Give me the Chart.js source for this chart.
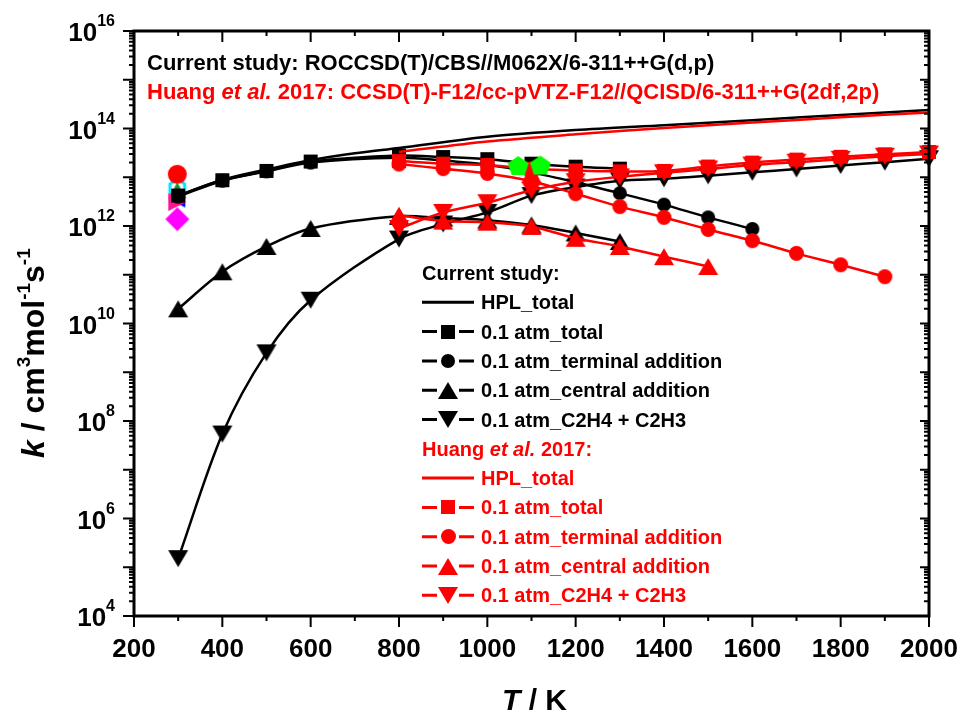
<!DOCTYPE html>
<html>
<head>
<meta charset="utf-8">
<title>C2H3 + C2H4 rate constants</title>
<script src="https://cdn.jsdelivr.net/npm/chart.js@4.4.1/dist/chart.umd.min.js"></script>
<style>
  html, body { margin: 0; padding: 0; background: #fff; }
  canvas { display: block; }
</style>
</head>
<body>
<canvas id="rateChart" width="962" height="713"></canvas>
<script>
const FAM = '"Liberation Sans", Arial, Helvetica, sans-serif';
const bold = s => 'bold ' + s + 'px ' + FAM;
const boldItalic = s => 'italic bold ' + s + 'px ' + FAM;

// axes
const xMin = 200, xMax = 2000;
const xTickLabels = [200, 400, 600, 800, 1000, 1200, 1400, 1600, 1800, 2000];
const yExpLabels = [4, 6, 8, 10, 12, 14, 16];

// current study (black)
const tHplBlack = [300, 400, 500, 600, 700, 800, 1000, 1200, 1400, 1600, 1800, 2000];
const kHplBlack = [4.2e12, 8.9e12, 1.45e13, 2.24e13, 3.1e13, 3.98e13, 6.76e13, 9.3e13, 1.17e14, 1.48e14, 1.9e14, 2.4e14];
const tTotBlack = [300, 400, 500, 600, 800, 900, 1000, 1100, 1200, 1300];
const kTotBlack = [4.2e12, 8.7e12, 1.35e13, 2.1e13, 2.8e13, 2.6e13, 2.35e13, 1.9e13, 1.65e13, 1.5e13];
const tTermBlack = [300, 400, 500, 600, 800, 900, 1000, 1100, 1200, 1300, 1400, 1500, 1600];
const kTermBlack = [4.0e12, 8.5e12, 1.32e13, 2.0e13, 2.5e13, 2.2e13, 1.8e13, 1.26e13, 7.9e12, 4.7e12, 2.75e12, 1.5e12, 8.7e11];
const tCentBlack = [300, 400, 500, 600, 800, 900, 1000, 1100, 1200, 1300];
const kCentBlack = [2.0e10, 1.15e11, 3.8e11, 8.9e11, 1.58e12, 1.45e12, 1.32e12, 1.05e12, 7.2e11, 4.8e11];
const tVinBlack = [300, 400, 500, 600, 800, 900, 1000, 1100, 1200, 1300, 1400, 1500, 1600, 1700, 1800, 1900, 2000];
const kVinBlack = [1.5e5, 5.4e7, 2.5e9, 3.0e10, 5.4e11, 1.1e12, 1.9e12, 4.2e12, 6.3e12, 8.5e12, 9.3e12, 1.07e13, 1.26e13, 1.48e13, 1.74e13, 2.04e13, 2.4e13];

// Huang et al. 2017 (red)
const tHplRed = [800, 1000, 1200, 1400, 1600, 1800, 2000];
const kHplRed = [3.3e13, 5.4e13, 7.6e13, 1.02e14, 1.32e14, 1.7e14, 2.14e14];
const tTotRed = [800, 900, 1000, 1100, 1200, 1300, 1400, 1500, 1600, 1700, 1800, 1900, 2000];
const kTotRed = [2.15e13, 1.9e13, 1.78e13, 1.5e13, 1.38e13, 1.32e13, 1.35e13, 1.66e13, 2.0e13, 2.3e13, 2.63e13, 2.95e13, 3.3e13];
const tTermRed = [800, 900, 1000, 1100, 1200, 1300, 1400, 1500, 1600, 1700, 1800, 1900];
const kTermRed = [1.86e13, 1.5e13, 1.2e13, 8.3e12, 4.6e12, 2.5e12, 1.5e12, 8.5e11, 5.0e11, 2.75e11, 1.6e11, 9.1e10];
const tCentRed = [800, 900, 1000, 1100, 1200, 1300, 1400, 1500];
const kCentRed = [1.66e12, 1.26e12, 1.2e12, 9.8e11, 5.6e11, 3.8e11, 2.35e11, 1.48e11];
const tVinRed = [800, 900, 1000, 1100, 1200, 1300, 1400, 1500, 1600, 1700, 1800, 1900, 2000];
const kVinRed = [8.9e11, 1.9e12, 3.0e12, 5.4e12, 8.1e12, 1.02e13, 1.23e13, 1.48e13, 1.78e13, 2.04e13, 2.34e13, 2.7e13, 3.0e13];

// literature points
const tRoom = [298, 298, 298, 298, 298, 298, 298];
const kRoom = [1.15e13, 6.0e12, 5.4e12, 3.5e12, 4.6e12, 3.1e12, 1.38e12];
const tShock = [1070, 1120];
const kShock = [1.66e13, 1.7e13];
const tHigh = [1100];
const kHigh = [1.17e13];

// filled marker bitmaps, centred on their bounding box
function marker(shape, color, w, h, ring) {
  h = h || w;
  const pad = 2;
  const c = document.createElement('canvas');
  c.width = w + 2 * pad;
  c.height = h + 2 * pad;
  const g = c.getContext('2d');
  g.translate(pad, pad);
  g.beginPath();
  switch (shape) {
    case 'square': g.rect(0, 0, w, h); break;
    case 'circle': g.arc(w / 2, h / 2, w / 2, 0, Math.PI * 2); break;
    case 'up': g.moveTo(w / 2, 0); g.lineTo(w, h); g.lineTo(0, h); break;
    case 'down': g.moveTo(0, 0); g.lineTo(w, 0); g.lineTo(w / 2, h); break;
    case 'left': g.moveTo(0, h / 2); g.lineTo(w, 0); g.lineTo(w, h); break;
    case 'right': g.moveTo(w, h / 2); g.lineTo(0, 0); g.lineTo(0, h); break;
    case 'diamond': g.moveTo(w / 2, 0); g.lineTo(w, h / 2); g.lineTo(w / 2, h); g.lineTo(0, h / 2); break;
    case 'pentagon':
    case 'hexagon': {
      const n = shape === 'pentagon' ? 5 : 6;
      for (let i = 0; i < n; i++) {
        const a = -Math.PI / 2 + i * 2 * Math.PI / n;
        const px = w / 2 + w / 2 * Math.cos(a), py = h / 2 + h / 2 * Math.sin(a);
        if (i) g.lineTo(px, py); else g.moveTo(px, py);
      }
      break;
    }
  }
  g.closePath();
  if (ring) {
    g.lineWidth = ring;
    g.strokeStyle = color;
    g.stroke();
  } else {
    g.fillStyle = color;
    g.fill();
  }
  return c;
}

const BLACK = '#000000', RED = '#ff0000';
const mk = {
  sqB: marker('square', BLACK, 14), ciB: marker('circle', BLACK, 14),
  upB: marker('up', BLACK, 20, 17), dnB: marker('down', BLACK, 20, 17),
  sqR: marker('square', RED, 14), ciR: marker('circle', RED, 15),
  upR: marker('up', RED, 20, 17), dnR: marker('down', RED, 20, 17)
};

function series(label, ts, ks, color, style, width) {
  return {
    label: label,
    data: ts.map((t, i) => ({ x: t, y: ks[i] })),
    borderColor: color,
    backgroundColor: color,
    borderWidth: width === undefined ? 2.5 : width,
    pointStyle: style || 'circle',
    pointRadius: style ? 6 : 0,
    showLine: true,
    tension: 0.3,
    clip: false
  };
}

function points(label, ts, ks, styles) {
  return {
    label: label,
    data: ts.map((t, i) => ({ x: t, y: ks[i] })),
    pointStyle: styles,
    pointRadius: 6,
    showLine: false,
    clip: false
  };
}

// rich text helper: parts drawn left to right on one baseline
function richWidth(ctx, parts) {
  let w = 0;
  for (const p of parts) { ctx.font = p.font; w += ctx.measureText(p.text).width; }
  return w;
}
function richText(ctx, parts, x, y) {
  let cx = x;
  for (const p of parts) {
    ctx.font = p.font;
    if (p.color) ctx.fillStyle = p.color;
    ctx.fillText(p.text, cx, y + (p.dy || 0));
    cx += ctx.measureText(p.text).width;
  }
}

const legendRows = [
  { head: [{ text: 'Current study:', font: bold(20) }], color: BLACK },
  { text: 'HPL_total', color: BLACK },
  { text: '0.1 atm_total', color: BLACK, m: mk.sqB },
  { text: '0.1 atm_terminal addition', color: BLACK, m: mk.ciB },
  { text: '0.1 atm_central addition', color: BLACK, m: mk.upB },
  { text: '0.1 atm_C2H4 + C2H3', color: BLACK, m: mk.dnB },
  { head: [{ text: 'Huang ', font: bold(20) }, { text: 'et al.', font: boldItalic(20) }, { text: ' 2017:', font: bold(20) }], color: RED },
  { text: 'HPL_total', color: RED },
  { text: '0.1 atm_total', color: RED, m: mk.sqR },
  { text: '0.1 atm_terminal addition', color: RED, m: mk.ciR },
  { text: '0.1 atm_central addition', color: RED, m: mk.upR },
  { text: '0.1 atm_C2H4 + C2H3', color: RED, m: mk.dnR }
];

const decorations = {
  id: 'decorations',
  afterDraw(chart) {
    const { ctx, chartArea: a, scales: { x, y } } = chart;
    ctx.save();
    ctx.strokeStyle = BLACK;
    ctx.fillStyle = BLACK;

    // ticks: outward on bottom/left, inward on top/right
    ctx.lineWidth = 2;
    ctx.beginPath();
    for (let t = xMin; t <= xMax; t += 100) {
      const px = x.getPixelForValue(t);
      const len = t % 200 === 0 ? 11 : 5;
      ctx.moveTo(px, a.bottom); ctx.lineTo(px, a.bottom + len);
      ctx.moveTo(px, a.top); ctx.lineTo(px, a.top + len);
    }
    for (let e = 4; e <= 16; e++) {
      const py = y.getPixelForValue(Math.pow(10, e));
      ctx.moveTo(a.left, py); ctx.lineTo(a.left - 11, py);
      ctx.moveTo(a.right, py); ctx.lineTo(a.right - 9, py);
      if (e === 16) continue;
      for (let m = 2; m <= 9; m++) {
        const pm = y.getPixelForValue(m * Math.pow(10, e));
        ctx.moveTo(a.left, pm); ctx.lineTo(a.left - 5, pm);
        ctx.moveTo(a.right, pm); ctx.lineTo(a.right - 5, pm);
      }
    }
    ctx.stroke();
    ctx.lineWidth = 3;
    ctx.strokeRect(a.left, a.top, a.right - a.left, a.bottom - a.top);

    // tick labels
    ctx.textAlign = 'center';
    ctx.textBaseline = 'alphabetic';
    ctx.font = bold(26);
    xTickLabels.forEach(t => ctx.fillText(String(t), x.getPixelForValue(t), a.bottom + 41));
    ctx.textAlign = 'left';
    yExpLabels.forEach(e => {
      const py = y.getPixelForValue(Math.pow(10, e));
      const parts = [
        { text: '10', font: bold(26), dy: 10 },
        { text: String(e), font: bold(16), dy: -5 }
      ];
      richText(ctx, parts, a.left - 19 - richWidth(ctx, parts), py);
    });

    // axis titles
    const xTitle = [{ text: 'T', font: boldItalic(30) }, { text: ' / K', font: bold(30) }];
    richText(ctx, xTitle, (a.left + a.right) / 2 - richWidth(ctx, xTitle) / 2 + 3, 710);
    const yTitle = [
      { text: 'k', font: boldItalic(32) }, { text: ' / cm', font: bold(32) },
      { text: '3', font: bold(19), dy: -14 }, { text: 'mol', font: bold(32) },
      { text: '-1', font: bold(19), dy: -14 }, { text: 's', font: bold(32) },
      { text: '-1', font: bold(19), dy: -14 }
    ];
    ctx.save();
    ctx.translate(44, 458);
    ctx.rotate(-Math.PI / 2);
    richText(ctx, yTitle, 0, 0);
    ctx.restore();

    // method lines at the top of the plot
    richText(ctx, [{ text: 'Current study: ROCCSD(T)/CBS//M062X/6-311++G(d,p)', font: bold(22), color: BLACK }], 147, 70);
    richText(ctx, [
      { text: 'Huang ', font: bold(22), color: RED },
      { text: 'et al.', font: boldItalic(22) },
      { text: ' 2017: CCSD(T)-F12/cc-pVTZ-F12//QCISD/6-311++G(2df,2p)', font: bold(22) }
    ], 147, 99);

    // legend
    const lx0 = 422, lx1 = 474, ltx = 481, ly0 = 273, ldy = 29.3;
    legendRows.forEach((r, i) => {
      const cy = ly0 + i * ldy;
      ctx.fillStyle = r.color;
      ctx.strokeStyle = r.color;
      if (r.head) {
        richText(ctx, r.head, lx0, cy + 7);
        return;
      }
      ctx.lineWidth = 3;
      ctx.beginPath();
      if (r.m) {
        ctx.moveTo(lx0, cy); ctx.lineTo(lx0 + 15, cy);
        ctx.moveTo(lx1 - 15, cy); ctx.lineTo(lx1, cy);
      } else {
        ctx.moveTo(lx0, cy); ctx.lineTo(lx1, cy);
      }
      ctx.stroke();
      if (r.m) ctx.drawImage(r.m, Math.round((lx0 + lx1) / 2 - r.m.width / 2), Math.round(cy - r.m.height / 2));
      ctx.font = bold(20);
      ctx.fillText(r.text, ltx, cy + 7);
    });
    ctx.restore();
  }
};

const datasets = [
  points('shock tube', tShock, kShock, [marker('pentagon', '#00ff00', 22, 21), marker('pentagon', '#00ff00', 22, 21)]),
  points('high T', tHigh, kHigh, [marker('up', RED, 20, 18)]),
  points('room T, red', tRoom.slice(0, 1), kRoom.slice(0, 1), [marker('circle', RED, 19)]),
  series('Huang 0.1 atm_C2H4 + C2H3', tVinRed, kVinRed, RED, mk.dnR),
  series('Huang 0.1 atm_central addition', tCentRed, kCentRed, RED, mk.upR),
  series('Huang 0.1 atm_terminal addition', tTermRed, kTermRed, RED, mk.ciR),
  series('Huang 0.1 atm_total', tTotRed, kTotRed, RED, mk.sqR),
  series('Huang HPL_total', tHplRed, kHplRed, RED, null, 2.5),
  series('0.1 atm_total', tTotBlack, kTotBlack, BLACK, mk.sqB),
  series('0.1 atm_terminal addition', tTermBlack, kTermBlack, BLACK, mk.ciB),
  series('0.1 atm_central addition', tCentBlack, kCentBlack, BLACK, mk.upB),
  series('0.1 atm_C2H4 + C2H3', tVinBlack, kVinBlack, BLACK, mk.dnB),
  series('HPL_total', tHplBlack, kHplBlack, BLACK, null, 2.5),
  points('room T', tRoom.slice(1), kRoom.slice(1), [
    marker('hexagon', '#00e5ff', 17, 17, 3),
    marker('up', '#1a8f1a', 18, 16),
    marker('left', '#0000ff', 16, 16),
    marker('up', '#7f00ff', 14, 12),
    marker('right', '#ff1493', 18, 18),
    marker('diamond', '#ff00ff', 24, 24)
  ])
];

new Chart(document.getElementById('rateChart'), {
  type: 'line',
  data: { datasets: datasets },
  options: {
    responsive: false,
    devicePixelRatio: 1,
    animation: false,
    events: [],
    layout: { padding: { top: 31, right: 33, left: 0, bottom: 0 } },
    plugins: { legend: { display: false }, tooltip: { enabled: false } },
    scales: {
      x: {
        type: 'linear', min: xMin, max: xMax,
        ticks: { display: false }, grid: { display: false }, border: { display: false },
        afterFit: s => { s.height = 97; }
      },
      y: {
        type: 'logarithmic', min: 1e4, max: 1e16,
        ticks: { display: false }, grid: { display: false }, border: { display: false },
        afterFit: s => { s.width = 134; }
      }
    }
  },
  plugins: [decorations]
});
</script>
</body>
</html>
